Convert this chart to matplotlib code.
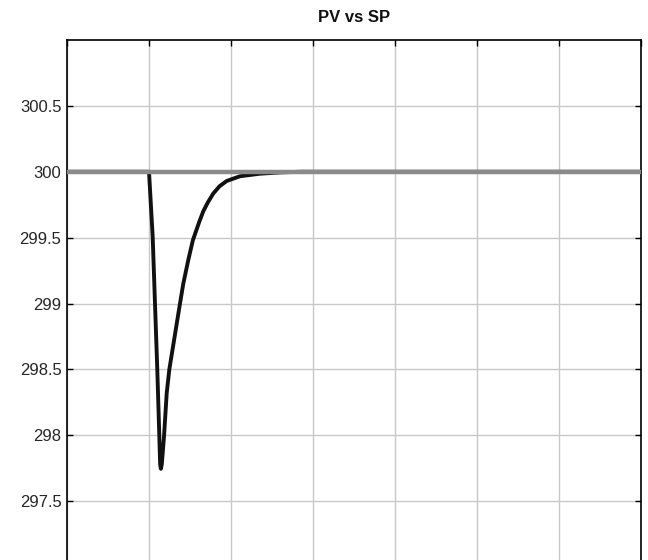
import matplotlib
matplotlib.use("Agg")
import matplotlib.pyplot as plt

plt.rcParams['font.family'] = ['Liberation Sans', 'DejaVu Sans']

# Data
time_pv = [0, 10.0, 10.45, 10.73, 11.01, 11.26, 11.36, 11.45, 11.56, 11.83, 12.16,
           12.48, 13.78, 14.18, 14.79, 15.35, 16.13, 16.62, 17.2, 17.84, 18.6,
           19.48, 21.1, 23.5, 26.0, 28.5, 70]
pv = [300, 300, 299.506, 299.0, 298.50, 297.99, 297.78, 297.745, 297.78, 297.99, 298.32,
      298.50, 299.0, 299.15, 299.33, 299.48, 299.62, 299.70, 299.77, 299.835, 299.89,
      299.93, 299.966, 299.985, 299.995, 300, 300]
time_sp = [0, 70]
sp = [300, 300]

title = "PV vs SP"
yticks = [297.5, 298, 298.5, 299, 299.5, 300, 300.5]
ytick_labels = ["297.5", "298", "298.5", "299", "299.5", "300", "300.5"]
xticks = [0, 10, 20, 30, 40, 50, 60, 70]

fig = plt.figure(figsize=(6.48, 5.6), dpi=100)
ax = fig.add_axes([67/648, -7/560, 574/648, 527/560])

ax.plot(time_pv, pv, color='#111111', linewidth=2.8, zorder=3,
        solid_joinstyle='round')
ax.plot(time_sp, sp, color='#8a8a8a', linewidth=3.2, solid_capstyle='butt', zorder=4)

ax.set_xlim(0, 70)
ax.set_ylim(297, 301)
ax.set_xticks(xticks)
ax.set_xticklabels([])
ax.set_yticks(yticks)
ax.set_yticklabels(ytick_labels)
ax.grid(True, color='#c8c8c8', linewidth=1.0)
ax.set_axisbelow(True)
ax.tick_params(direction='in', length=4, width=1, top=True, right=True,
               labelsize=12, labelcolor='#262626', pad=4)
for s in ax.spines.values():
    s.set_linewidth(1.2)
    s.set_color('black')

fig.text((67+641)/2/648, 1 - 18/560, title, ha='center', va='center',
         fontsize=12, fontweight='bold', color='#111111')

fig.savefig("out.png", dpi=100)
